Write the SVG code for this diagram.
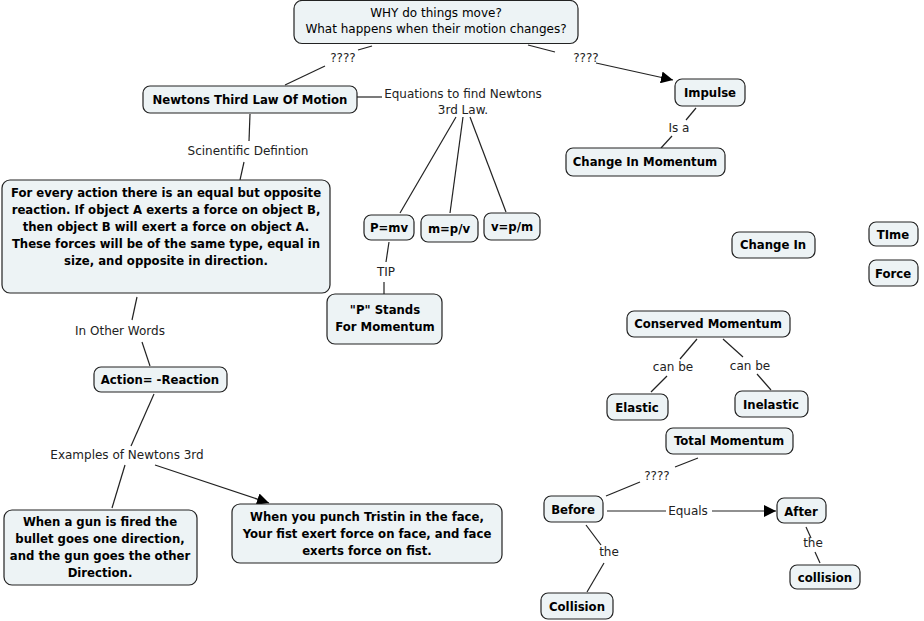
<svg xmlns="http://www.w3.org/2000/svg" width="924" height="621" viewBox="0 0 924 621">
<defs>
<style>
.n rect{fill:#edf3f5;stroke:#222;stroke-width:1.2}
.n text{font-family:"DejaVu Sans",Verdana,sans-serif;font-weight:bold;font-size:11.7px;fill:#000;text-anchor:middle}
.r text{font-weight:normal;font-size:12px}
.c line,.c path{stroke:#222;stroke-width:1.2;fill:none}
.l{font-family:"DejaVu Sans",Verdana,sans-serif;font-size:12px;fill:#222;text-anchor:middle}
</style>
<marker id="a" viewBox="0 0 10 10" refX="10" refY="5" markerWidth="12" markerHeight="12" markerUnits="userSpaceOnUse" orient="auto"><path d="M0,0L10,5L0,10z" fill="#000"/></marker>
</defs>
<rect width="924" height="621" fill="#fff"/>
<g class="c" id="connectors">
<line x1="372" y1="46" x2="358" y2="50"/><line x1="325" y1="66" x2="285" y2="85"/>
<line x1="528" y1="45" x2="555" y2="52"/><line x1="596" y1="63" x2="673" y2="80" marker-end="url(#a)"/>
<line x1="357" y1="97" x2="382" y2="97"/>
<line x1="456" y1="117" x2="400" y2="213"/><line x1="463" y1="117" x2="450" y2="213"/><line x1="470" y1="117" x2="506" y2="212"/>
<line x1="696" y1="108" x2="686" y2="120"/><line x1="672" y1="136" x2="661" y2="148"/>
<line x1="250" y1="114" x2="249" y2="141"/><line x1="244" y1="162" x2="240" y2="180"/>
<line x1="389" y1="242" x2="386" y2="262"/><line x1="384" y1="282" x2="384" y2="294"/>
<line x1="137" y1="297" x2="132" y2="320"/><line x1="142" y1="342" x2="150" y2="366"/>
<line x1="154" y1="394" x2="131" y2="446"/><line x1="125" y1="465" x2="112" y2="508"/>
<line x1="155" y1="465" x2="269" y2="503" marker-end="url(#a)"/>
<line x1="697" y1="339" x2="680" y2="359"/><line x1="667" y1="376" x2="651" y2="392"/>
<line x1="723" y1="339" x2="743" y2="357"/><line x1="757" y1="374" x2="771" y2="390"/>
<line x1="698" y1="458" x2="675" y2="467"/><line x1="640" y1="482" x2="606" y2="496"/>
<line x1="607" y1="511" x2="666" y2="511"/><line x1="712" y1="511" x2="776" y2="511" marker-end="url(#a)"/>
<line x1="586" y1="525" x2="601" y2="545"/><line x1="604" y1="563" x2="587" y2="592"/>
<line x1="806" y1="527" x2="811" y2="538"/><line x1="815" y1="552" x2="820" y2="563"/>
</g>
<g id="labels">
<text class="l" x="343" y="62">????</text>
<text class="l" x="586" y="62">????</text>
<text class="l" x="463" y="98">Equations to find Newtons</text>
<text class="l" x="463" y="114">3rd Law.</text>
<text class="l" x="679" y="132">Is a</text>
<text class="l" x="248" y="155">Scinentific Defintion</text>
<text class="l" x="386" y="276">TIP</text>
<text class="l" x="120" y="335">In Other Words</text>
<text class="l" x="127" y="459">Examples of Newtons 3rd</text>
<text class="l" x="673" y="371">can be</text>
<text class="l" x="750" y="370">can be</text>
<text class="l" x="657" y="480">????</text>
<text class="l" x="688" y="515">Equals</text>
<text class="l" x="609" y="556">the</text>
<text class="l" x="813" y="547">the</text>
</g>
<g class="n r" id="root"><rect x="294" y="0.5" width="284" height="43" rx="8"/><text x="436" y="17">WHY do things move?</text><text x="436" y="33">What happens when their motion changes?</text></g>
<g class="n" id="newton"><rect x="143" y="86" width="214" height="27" rx="7"/><text x="250" y="104">Newtons Third Law Of Motion</text></g>
<g class="n" id="impulse"><rect x="675" y="79" width="70" height="27" rx="7"/><text x="710" y="97">Impulse</text></g>
<g class="n" id="changemom"><rect x="566" y="148" width="159" height="28" rx="7"/><text x="645" y="166">Change In Momentum</text></g>
<g class="n" id="definition"><rect x="2" y="180" width="328" height="113" rx="8"/>
<text x="166" y="197">For every action there is an equal but opposite</text>
<text x="166" y="214">reaction. If object A exerts a force on object B,</text>
<text x="166" y="231">then object B will exert a force on object A.</text>
<text x="166" y="248">These forces will be of the same type, equal in</text>
<text x="166" y="265">size, and opposite in direction.</text></g>
<g class="n" id="pmv"><rect x="364" y="215" width="50" height="25" rx="7"/><text x="389" y="232">P=mv</text></g>
<g class="n" id="mpv"><rect x="421" y="215" width="57" height="27" rx="7"/><text x="449" y="233">m=p/v</text></g>
<g class="n" id="vpm"><rect x="484" y="213" width="56" height="27" rx="7"/><text x="512" y="231">v=p/m</text></g>
<g class="n" id="pstands"><rect x="327" y="294" width="115" height="50" rx="8"/><text x="385" y="314">"P" Stands</text><text x="385" y="331">For Momentum</text></g>
<g class="n" id="action"><rect x="94" y="367" width="133" height="25" rx="7"/><text x="160" y="384">Action= -Reaction</text></g>
<g class="n" id="gun"><rect x="4" y="510" width="193" height="75" rx="8"/>
<text x="100" y="526">When a gun is fired the</text>
<text x="100" y="543">bullet goes one direction,</text>
<text x="100" y="560">and the gun goes the other</text>
<text x="100" y="577">Direction.</text></g>
<g class="n" id="punch"><rect x="232" y="504" width="270" height="59" rx="8"/>
<text x="367" y="521">When you punch Tristin in the face,</text>
<text x="367" y="538">Your fist exert force on face, and face</text>
<text x="367" y="555">exerts force on fist.</text></g>
<g class="n" id="changein"><rect x="732" y="232" width="83" height="26" rx="7"/><text x="773" y="249">Change In</text></g>
<g class="n" id="time"><rect x="869" y="222" width="49" height="24" rx="7"/><text x="893" y="239">TIme</text></g>
<g class="n" id="force"><rect x="869" y="260" width="49" height="26" rx="7"/><text x="893" y="278">Force</text></g>
<g class="n" id="conserved"><rect x="627" y="311" width="163" height="26" rx="7"/><text x="708" y="328">Conserved Momentum</text></g>
<g class="n" id="elastic"><rect x="607" y="394" width="61" height="26" rx="7"/><text x="637" y="412">Elastic</text></g>
<g class="n" id="inelastic"><rect x="735" y="391" width="73" height="26" rx="7"/><text x="771" y="409">Inelastic</text></g>
<g class="n" id="total"><rect x="666" y="428" width="127" height="26" rx="7"/><text x="729" y="445">Total Momentum</text></g>
<g class="n" id="before"><rect x="544" y="496" width="59" height="26" rx="7"/><text x="573" y="514">Before</text></g>
<g class="n" id="after"><rect x="777" y="498" width="49" height="25" rx="7"/><text x="801" y="516">After</text></g>
<g class="n" id="collision1"><rect x="541" y="593" width="72" height="26" rx="7"/><text x="577" y="611">Collision</text></g>
<g class="n" id="collision2"><rect x="790" y="565" width="70" height="24" rx="7"/><text x="825" y="582">collision</text></g>
</svg>
